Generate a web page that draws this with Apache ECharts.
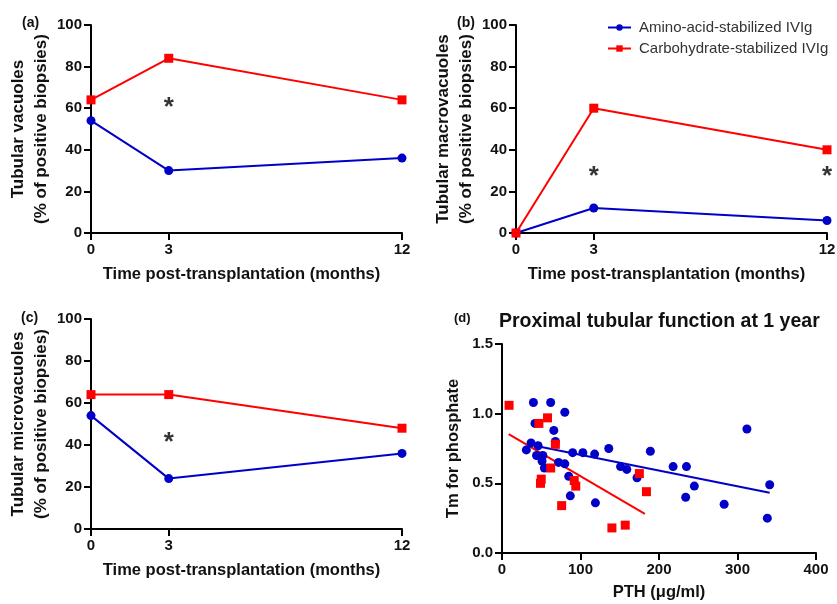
<!DOCTYPE html>
<html>
<head>
<meta charset="utf-8">
<script src="https://cdn.jsdelivr.net/npm/echarts@6/dist/echarts.min.js"></script>
<style>html,body{margin:0;padding:0;background:#fff}#c{width:837px;height:604px}</style>
</head>
<body>
<div id="c"></div>
<script>
// ---- data ----
const months = [0, 3, 12];
const monthTicks = [0, 3, 12];
const seriesNames = ['Amino-acid-stabilized IVIg', 'Carbohydrate-stabilized IVIg'];
// (a) tubular vacuoles (% of positive biopsies)
const vacuolesAmino = [54, 30, 36];
const vacuolesCarbo = [64, 84, 64];
// (b) tubular macrovacuoles
const macroAmino = [0, 12, 6];
const macroCarbo = [0, 60, 40];
// (c) tubular microvacuoles
const microAmino = [54, 24, 36];
const microCarbo = [64, 64, 48];
// significance markers [month, % position]
const starsA = [[3, 62]];
const starsB = [[3, 29], [12, 29]];
const starsC = [[3, 43]];
// (d) PTH (µg/ml) vs Tm for phosphate at 1 year
const pthAmino = [31, 37, 40, 42, 46, 44, 52, 51, 54, 62, 66, 68, 72, 80, 80, 85, 87, 90, 103, 118, 119, 136, 151, 159, 172, 189, 218, 235, 234, 245, 283, 312, 341, 338];
const tmpAmino = [0.74, 0.79, 1.08, 0.93, 0.77, 0.70, 0.70, 0.66, 0.61, 1.08, 0.88, 0.80, 0.65, 1.01, 0.64, 0.55, 0.41, 0.72, 0.72, 0.71, 0.36, 0.75, 0.62, 0.60, 0.54, 0.73, 0.62, 0.62, 0.40, 0.48, 0.35, 0.89, 0.49, 0.25];
const pthCarbo = [9, 47, 58, 68, 62, 50, 49, 92, 94, 76, 140, 157, 175, 184];
const tmpCarbo = [1.06, 0.93, 0.97, 0.78, 0.61, 0.53, 0.50, 0.52, 0.48, 0.34, 0.18, 0.20, 0.57, 0.44];
// regression lines: [x, y] end points
const fitAmino = [[47, 0.765], [341, 0.432]];
const fitCarbo = [[8.5, 0.853], [182, 0.28]];

// ---- styling ----
const BLUE = '#0000c8', RED = '#ff0000';
const FONT = '"Liberation Sans", Arial, Helvetica, sans-serif';
const pair = (xs, ys) => xs.map((x, i) => [x, ys[i]]);

function xTime(gridIndex) {
  return {
    type: 'value', gridIndex, min: 0, max: 12,
    name: 'Time post-transplantation (months)', nameLocation: 'middle', nameGap: 33,
    nameTextStyle: { fontFamily: FONT, fontWeight: 'bold', fontSize: 16.5, color: '#111', padding: [0, 10, 0, 0] },
    axisLine: { show: true, onZero: false, lineStyle: { color: '#000', width: 2 } },
    axisTick: { show: true, length: 7, customValues: monthTicks, lineStyle: { color: '#000', width: 2 } },
    axisLabel: { customValues: monthTicks, margin: 9, fontFamily: FONT, fontWeight: 'bold', fontSize: 15, color: '#111' },
    splitLine: { show: false }
  };
}
function yPct(gridIndex, title) {
  return {
    type: 'value', gridIndex, min: 0, max: 100, interval: 20,
    name: title + '\n(% of positive biopsies)', nameLocation: 'middle', nameGap: 36, nameRotate: 90,
    nameTextStyle: { fontFamily: FONT, fontWeight: 'bold', fontSize: 17, color: '#111', lineHeight: 23 },
    axisLine: { show: true, onZero: false, lineStyle: { color: '#000', width: 2 } },
    axisTick: { show: true, length: 7, lineStyle: { color: '#000', width: 2 } },
    axisLabel: { margin: 9, fontFamily: FONT, fontWeight: 'bold', fontSize: 15, color: '#111' },
    splitLine: { show: false }
  };
}
function lineSeries(idx, name, ys, color, symbol, size) {
  return {
    type: 'line', name, xAxisIndex: idx, yAxisIndex: idx,
    data: pair(months, ys), color,
    symbol, symbolSize: size, showSymbol: true,
    lineStyle: { color, width: 2 }, itemStyle: { color, opacity: 1 },
    z: 3, animation: false
  };
}
function starSeries(idx, pts) {
  return {
    type: 'scatter', name: 'sig', xAxisIndex: idx, yAxisIndex: idx, data: pts,
    symbolSize: 1, itemStyle: { color: 'rgba(0,0,0,0)' }, silent: true,
    label: { show: true, position: 'inside', formatter: '*', fontFamily: FONT, fontWeight: 'bold',
             fontSize: 26, color: '#000', offset: [0, 4] },
    animation: false
  };
}

const grids = [
  { left: 91, top: 25, width: 311, height: 208 },
  { left: 516, top: 25, width: 311, height: 208 },
  { left: 91, top: 319, width: 311, height: 210 },
  { left: 502, top: 344, width: 314, height: 209 }
].map(g => Object.assign({ containLabel: false, outerBoundsMode: 'none' }, g));

const option = {
  backgroundColor: '#fff',
  animation: false,
  textStyle: { fontFamily: FONT },
  title: [
    { text: '(a)', left: 17, top: 11, textStyle: { fontFamily: FONT, fontWeight: 'bold', fontSize: 14, color: '#111' } },
    { text: '(b)', left: 452, top: 11, textStyle: { fontFamily: FONT, fontWeight: 'bold', fontSize: 14, color: '#111' } },
    { text: '(c)', left: 16, top: 306, textStyle: { fontFamily: FONT, fontWeight: 'bold', fontSize: 14, color: '#111' } },
    { text: '(d)', left: 449, top: 307, textStyle: { fontFamily: FONT, fontWeight: 'bold', fontSize: 13, color: '#111' } },
    { text: 'Proximal tubular function at 1 year', left: 494, top: 307,
      textStyle: { fontFamily: FONT, fontWeight: 'bold', fontSize: 19.5, color: '#111' } }
  ],
  legend: {
    data: seriesNames, orient: 'vertical', left: 602, top: 15, itemGap: 6,
    itemWidth: 23, itemHeight: 8,
    textStyle: { fontFamily: FONT, fontSize: 15, color: '#333', padding: [0, 0, 0, 3] },
    selectedMode: false
  },
  grid: grids,
  xAxis: [xTime(0), xTime(1), xTime(2), {
    type: 'value', gridIndex: 3, min: 0, max: 400, interval: 100,
    name: 'PTH (μg/ml)', nameLocation: 'middle', nameGap: 31,
    nameTextStyle: { fontFamily: FONT, fontWeight: 'bold', fontSize: 16.5, color: '#111' },
    axisLine: { show: true, onZero: false, lineStyle: { color: '#000', width: 2 } },
    axisTick: { show: true, length: 7, lineStyle: { color: '#000', width: 2 } },
    axisLabel: { margin: 9, fontFamily: FONT, fontWeight: 'bold', fontSize: 15, color: '#111' },
    splitLine: { show: false }
  }],
  yAxis: [yPct(0, 'Tubular vacuoles'), yPct(1, 'Tubular macrovacuoles'), yPct(2, 'Tubular microvacuoles'), {
    type: 'value', gridIndex: 3, min: 0, max: 1.5, interval: 0.5,
    name: 'Tm for phosphate', nameLocation: 'middle', nameGap: 40, nameRotate: 90,
    nameTextStyle: { fontFamily: FONT, fontWeight: 'bold', fontSize: 16.5, color: '#111' },
    axisLine: { show: true, onZero: false, lineStyle: { color: '#000', width: 2 } },
    axisTick: { show: true, length: 7, lineStyle: { color: '#000', width: 2 } },
    axisLabel: { margin: 9, fontFamily: FONT, fontWeight: 'bold', fontSize: 15, color: '#111',
                 formatter: v => v.toFixed(1) },
    splitLine: { show: false }
  }],
  series: [
    lineSeries(0, seriesNames[0], vacuolesAmino, BLUE, 'circle', 9),
    lineSeries(0, seriesNames[1], vacuolesCarbo, RED, 'rect', 9),
    starSeries(0, starsA),
    lineSeries(1, seriesNames[0], macroAmino, BLUE, 'circle', 9),
    lineSeries(1, seriesNames[1], macroCarbo, RED, 'rect', 9),
    starSeries(1, starsB),
    lineSeries(2, seriesNames[0], microAmino, BLUE, 'circle', 9),
    lineSeries(2, seriesNames[1], microCarbo, RED, 'rect', 9),
    starSeries(2, starsC),
    {
      type: 'scatter', name: seriesNames[0], xAxisIndex: 3, yAxisIndex: 3,
      data: pair(pthAmino, tmpAmino), symbol: 'circle', symbolSize: 9, itemStyle: { color: BLUE, opacity: 1 }, z: 3
    },
    {
      type: 'scatter', name: seriesNames[1], xAxisIndex: 3, yAxisIndex: 3,
      data: pair(pthCarbo, tmpCarbo), symbol: 'rect', symbolSize: 9, itemStyle: { color: RED, opacity: 1 }, z: 4
    },
    {
      type: 'line', name: 'fitA', xAxisIndex: 3, yAxisIndex: 3, data: fitAmino,
      showSymbol: false, symbol: 'none', lineStyle: { color: BLUE, width: 2 }, z: 2
    },
    {
      type: 'line', name: 'fitC', xAxisIndex: 3, yAxisIndex: 3, data: fitCarbo,
      showSymbol: false, symbol: 'none', lineStyle: { color: RED, width: 2 }, z: 2
    }
  ]
};
const chart = echarts.init(document.getElementById('c'));
chart.setOption(option);
</script>
</body>
</html>
